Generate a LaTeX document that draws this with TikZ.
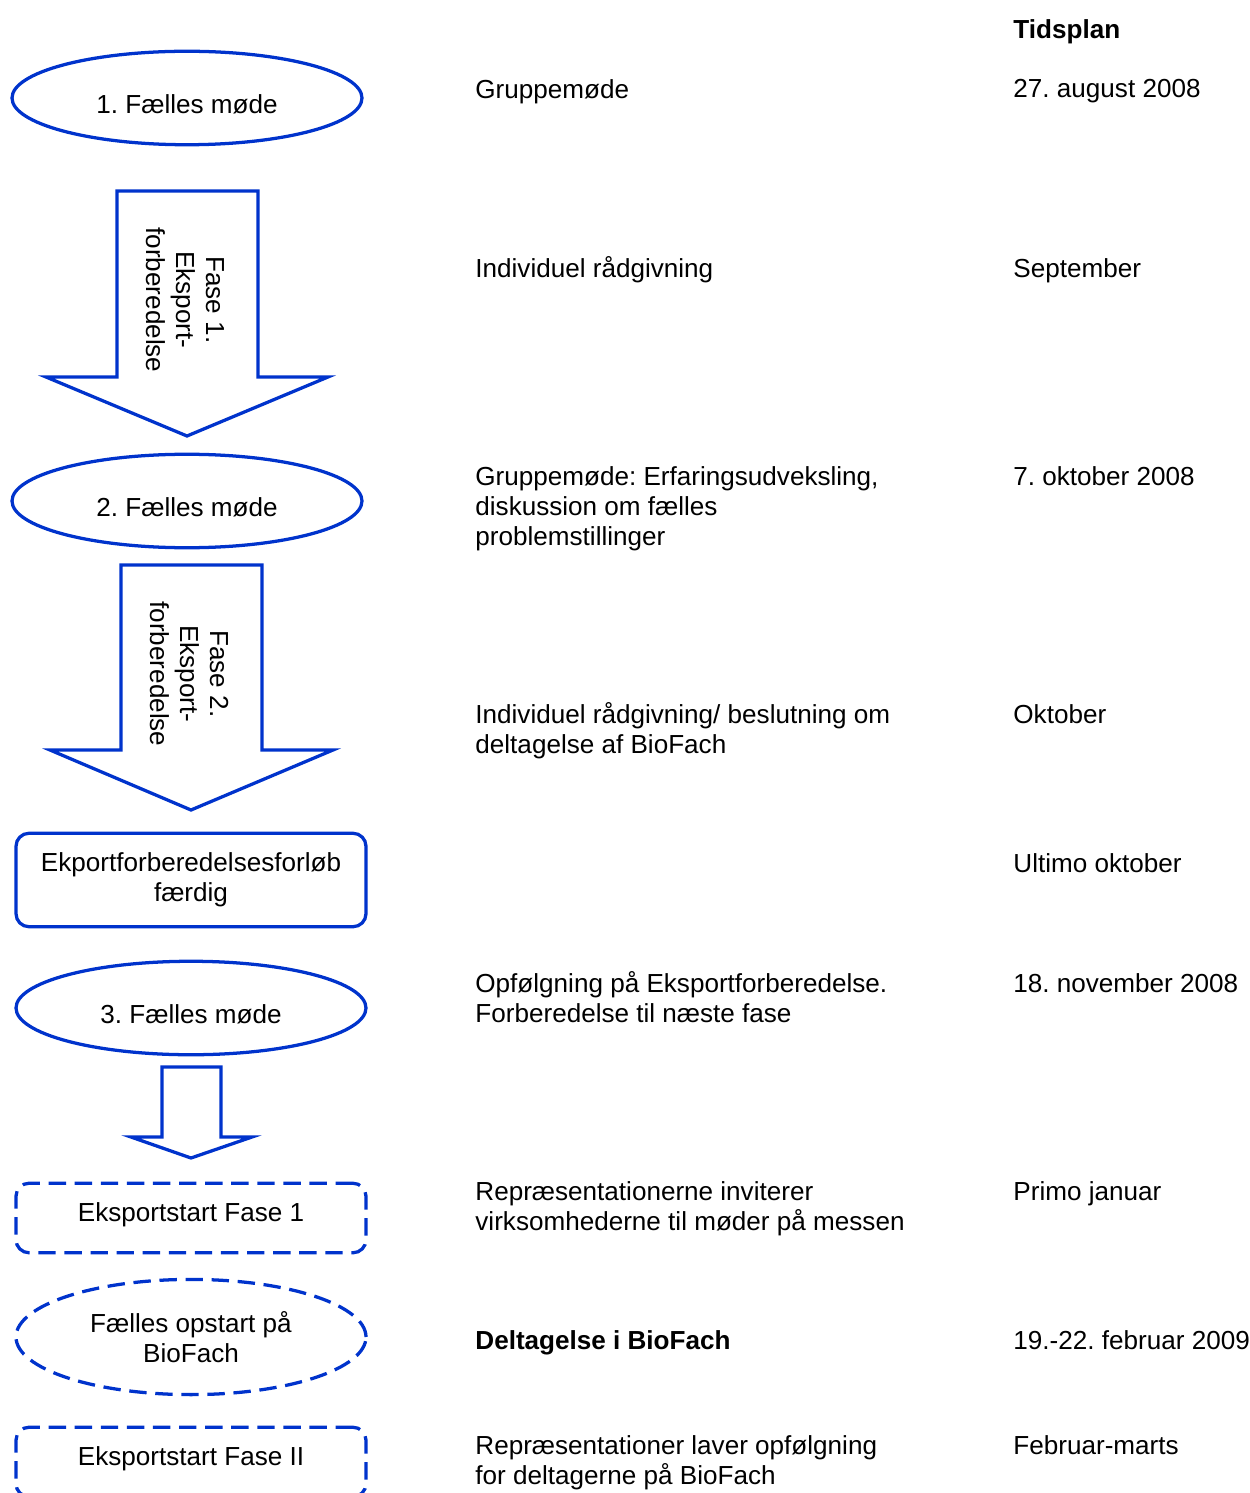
\documentclass[tikz,border=0pt]{standalone}
\usepackage{fontspec}
\setmainfont{Liberation Sans}
\usetikzlibrary{shapes.geometric}
\definecolor{planblue}{RGB}{0,51,204}
\frenchspacing

\begin{document}
\begin{tikzpicture}[x=0.46pt,y=-0.46pt,
    every node/.style={font=\fontsize{12}{13.8}\selectfont,inner sep=0pt},
    meeting/.style={ellipse,draw=planblue,line width=1.5pt,minimum
      width=161pt,minimum height=43pt},
    doneBox/.style={rectangle,rounded corners=6pt,draw=planblue,line
      width=1.5pt,minimum width=161pt,minimum height=43pt,align=center},
    startBox/.style={rectangle,rounded corners=6pt,draw=planblue,line
      width=1.5pt,dash pattern=on 8pt off 4pt,minimum width=161pt,minimum
      height=32pt},
    fase/.style={draw=planblue,line width=1.5pt,fill=white,miter limit=20},
    txt/.style={anchor=north west,align=left}]

  \useasboundingbox (0,0) rectangle (1249,1493);

  % left column: meetings, phases and milestones
  \node[meeting] (m1) at (187,98) {\raisebox{-7pt}[0pt][0pt]{1. Fælles møde}};

  \draw[fase] (117,191) -- (258,191) -- (258,377) -- (328,377) --
    (187,436) -- (46,377) -- (117,377) -- cycle;
  \node[rotate=-90,align=center] (f1) at (185,300)
    {Fase 1.\\Eksport-\\forberedelse};

  \node[meeting] (m2) at (187,501) {\raisebox{-7pt}[0pt][0pt]{2. Fælles møde}};

  \draw[fase] (121,565) -- (262,565) -- (262,750) -- (333,750) --
    (191,810) -- (50,750) -- (121,750) -- cycle;
  \node[rotate=-90,align=center] (f2) at (189,674)
    {Fase 2.\\Eksport-\\forberedelse};

  \node[doneBox] (done) at (191,880)
    {Ekportforberedelsesforløb\\færdig};

  \node[meeting] (m3) at (191,1008) {\raisebox{-7pt}[0pt][0pt]{3. Fælles møde}};

  \draw[fase] (162,1067) -- (221,1067) -- (221,1137) -- (252,1137) --
    (191,1158) -- (131,1137) -- (162,1137) -- cycle;

  \node[startBox] (s1) at (191,1218)
    {\raisebox{-1.5pt}[0pt][0pt]{Eksportstart Fase 1}};
  \node[meeting,dash pattern=on 8pt off 4pt,minimum height=53pt,
    align=center] (bio) at (191,1337) {Fælles opstart på\\BioFach};
  \node[startBox] (s2) at (191,1462)
    {\raisebox{-1.5pt}[0pt][0pt]{Eksportstart Fase II}};

  % middle column: activities
  \node[txt] (a1) at (475,79) {Gruppemøde};
  \node[txt] (a2) at (475,256) {Individuel rådgivning};
  \node[txt] (a3) at (475,466) {Gruppemøde: Erfaringsudveksling,\\diskussion
    om fælles\\problemstillinger};
  \node[txt] (a4) at (475,702) {Individuel rådgivning/ beslutning
    om\\deltagelse af BioFach};
  \node[txt] (a5) at (475,971) {Opfølgning på
    Eksportforberedelse.\\Forberedelse til næste fase};
  \node[txt] (a6) at (475,1181) {Repræsentationerne
    inviterer\\virksomhederne til møder på messen};
  \node[txt] (a7) at (475,1330) {\textbf{Deltagelse i BioFach}};
  \node[txt] (a8) at (475,1435) {Repræsentationer laver opfølgning\\for
    deltagerne på BioFach};

  % right column: dates
  \node[txt] (plan) at (1013,19) {\textbf{Tidsplan}};
  \node[txt] (d1) at (1013,79) {27. august 2008};
  \node[txt] (d2) at (1013,258) {September};
  \node[txt] (d3) at (1013,466) {7. oktober 2008};
  \node[txt] (d4) at (1013,704) {Oktober};
  \node[txt] (d5) at (1013,853) {Ultimo oktober};
  \node[txt] (d6) at (1013,973) {18. november 2008};
  \node[txt] (d7) at (1013,1181) {Primo januar};
  \node[txt] (d8) at (1013,1330) {19.-22. februar 2009};
  \node[txt] (d9) at (1013,1435) {Februar-marts};
\end{tikzpicture}
\end{document}
